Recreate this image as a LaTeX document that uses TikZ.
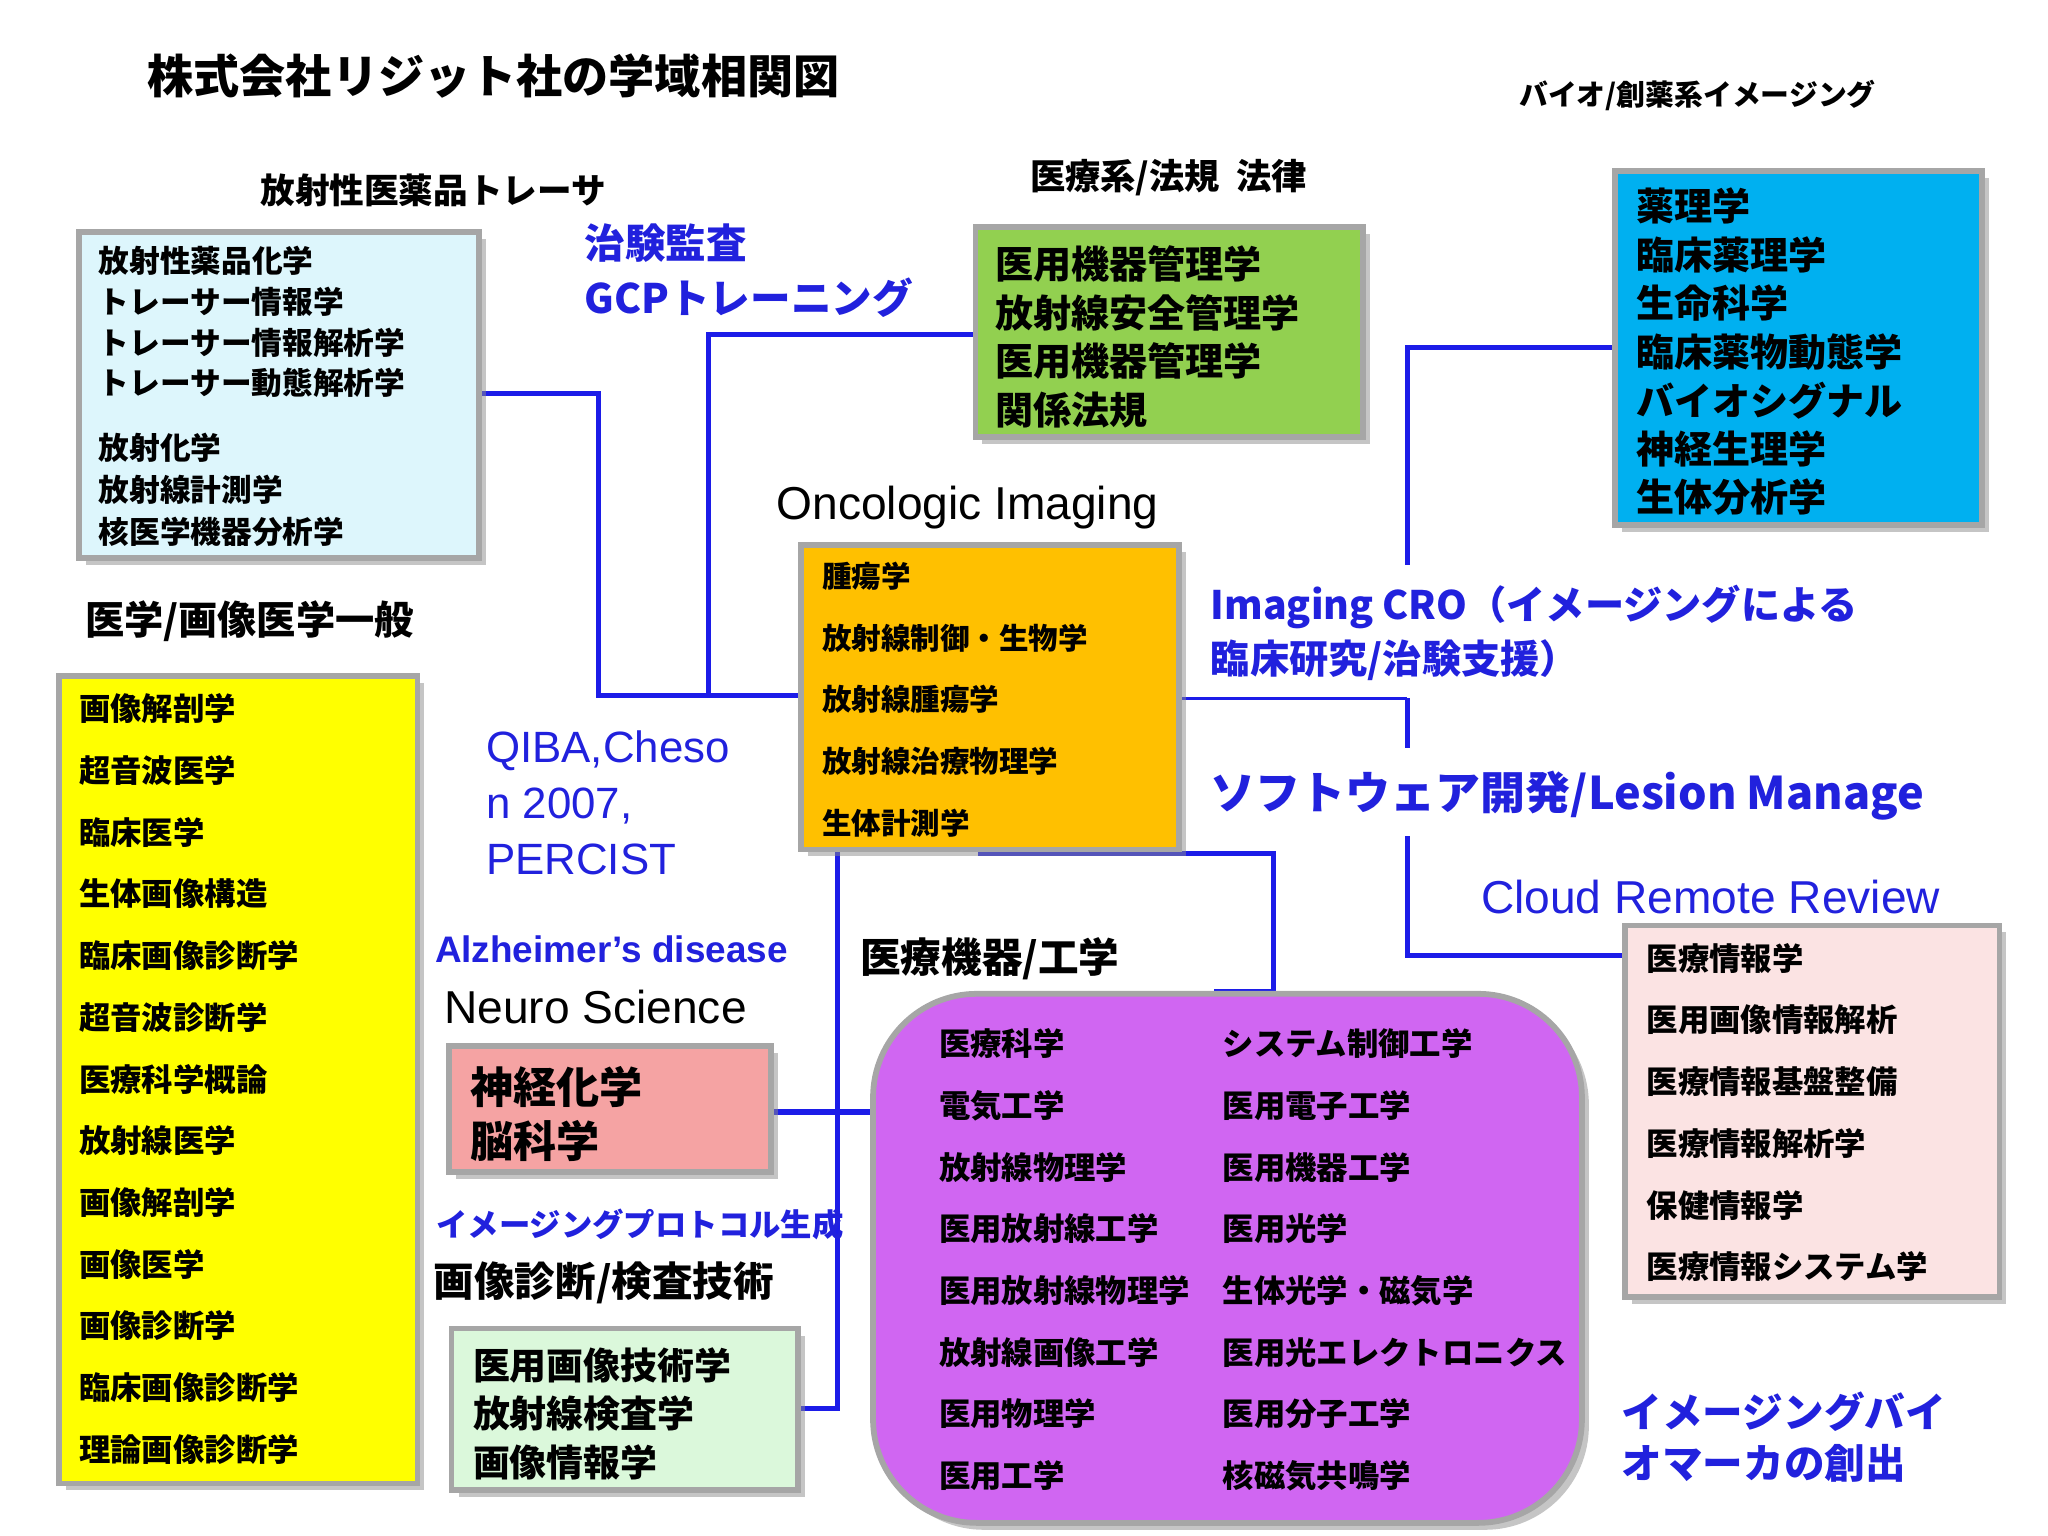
\documentclass[tikz,border=0pt]{standalone}
\usepackage{fontspec}
\setmainfont{Liberation Sans}
\newfontfamily\jp{Noto Sans CJK JP}
\usetikzlibrary{shadows}
\definecolor{tblue}{HTML}{2121DD}
\definecolor{lblue}{HTML}{1C1CE8}
\definecolor{ccy}{HTML}{DDF6FC}
\definecolor{cgr}{HTML}{92D050}
\definecolor{cbl}{HTML}{00B0F0}
\definecolor{cor}{HTML}{FFC000}
\definecolor{cye}{HTML}{FFFF00}
\definecolor{cpk}{HTML}{FBE3E3}
\definecolor{crd}{HTML}{F5A3A3}
\definecolor{clg}{HTML}{DBF8DB}
\definecolor{cpu}{HTML}{D066F2}
\newcommand{\fs}[1]{\fontsize{#1}{#1}\selectfont}
\tikzset{
 bx/.style={draw=black!35,line width=2.5pt,drop shadow={shadow xshift=3pt,shadow yshift=-3pt,fill=black!45}},
 ln/.style={draw=lblue,line width=2.2pt},
 t/.style={anchor=west,inner sep=0pt,font=\jp\bfseries},
 lab/.style={inner sep=0pt,font=\jp\bfseries},
}
\begin{document}
\begin{tikzpicture}[x=0.02cm,y=-0.02cm]
\useasboundingbox (0,0) rectangle (1560,1170);
% connectors
\coordinate (j1) at (456,530);
\draw[ln] (365,300) -- (456,300) -- (j1) -- (610,530);
\draw[ln] (540,530) -- (540,255) -- (743,255);
\draw[lblue,line width=1.2pt] (898,532) -- (1072,532);
\draw[ln] (1230,265) -- (1072,265) -- (1072,430);
\draw[ln] (1072,532) -- (1072,570);
\draw[ln] (1072,637) -- (1072,728) -- (1238,728);
\draw[ln] (638,647) -- (638,1073) -- (608,1073);
\draw[ln] (745,650) -- (970,650) -- (970,755) -- (925,755);
\draw[ln] (587,847) -- (665,847);
% title
\node[lab,anchor=west,font=\jp\bfseries\fs{20}] (title) at (112,58) {株式会社リジット社の学域相関図};
\node[lab,font=\jp\bfseries\fs{12.5}] (bio) at (1293,73) {バイオ/創薬系イメージング};
% cyan box
\node[lab,font=\jp\bfseries\fs{15}] (lcy) at (330,145) {放射性医薬品トレーサ};
\draw[bx,fill=ccy] (60,177) rectangle (365,425);
\foreach \s [count=\i] in {放射性薬品化学,トレーサー情報学,トレーサー情報解析学,トレーサー動態解析学}
  \node[t,font=\jp\bfseries\fs{13.3}] at (75,168+\i*31) {\s};
\foreach \s [count=\i] in {放射化学,放射線計測学,核医学機器分析学}
  \node[t,font=\jp\bfseries\fs{13.3}] at (75,309+\i*32) {\s};
\node[t,font=\jp\bfseries\fs{17.6},text=tblue] (gcp1) at (445,185) {治験監査};
\node[t,font=\jp\bfseries\fs{17.6},text=tblue] (gcp2) at (445,227) {GCPトレーニング};
% green box
\node[lab,font=\jp\bfseries\fs{15.3}] (law) at (890,135) {医療系/法規\ \ 法律};
\draw[bx,fill=cgr] (743,173) rectangle (1038,333);
\foreach \s [count=\i] in {医用機器管理学,放射線安全管理学,医用機器管理学,関係法規}
  \node[t,font=\jp\bfseries\fs{16.5}] at (758,164+\i*37) {\s};
% blue box
\draw[bx,fill=cbl] (1230,130) rectangle (1510,400);
\foreach \s [count=\i] in {薬理学,臨床薬理学,生命科学,臨床薬物動態学,バイオシグナル,神経生理学,生体分析学}
  \node[t,font=\jp\bfseries\fs{16.5}] at (1246,120+\i*37) {\s};
% orange
\node[lab,font=\fs{20}] (onc) at (737,387) {Oncologic Imaging};
\draw[bx,fill=cor] (610,415) rectangle (898,647);
\foreach \s [count=\i] in {腫瘍学,放射線制御・生物学,放射線腫瘍学,放射線治療物理学,生体計測学}
  \node[t,font=\jp\bfseries\fs{12.8}] at (626,392+\i*47) {\s};
% yellow
\node[lab,font=\jp\bfseries\fs{17}] (med) at (190,473) {医学/画像医学一般};
\draw[bx,fill=cye] (45,515) rectangle (318,1130);
\foreach \s [count=\i] in {画像解剖学,超音波医学,臨床医学,生体画像構造,臨床画像診断学,超音波診断学,医療科学概論,放射線医学,画像解剖学,画像医学,画像診断学,臨床画像診断学,理論画像診断学}
  \node[t,font=\jp\bfseries\fs{13.6}] at (60,493+\i*47) {\s};
% right texts
\node[t,font=\jp\bfseries\fs{17},text=tblue] at (922,462) {Imaging CRO（イメージングによる};
\node[t,font=\jp\bfseries\fs{17},text=tblue] at (922,503) {臨床研究/治験支援）};
\node[t,font=\jp\bfseries\fs{19.5},text=tblue] at (922,606) {ソフトウェア開発/Lesion Manage};
\node[lab,font=\fs{20},text=tblue] (crr) at (1303,683) {Cloud Remote Review};
% pink
\draw[bx,fill=cpk] (1238,705) rectangle (1523,988);
\foreach \s [count=\i] in {医療情報学,医用画像情報解析,医療情報基盤整備,医療情報解析学,保健情報学,医療情報システム学}
  \node[t,font=\jp\bfseries\fs{13.6}] at (1254,683+\i*47) {\s};
% middle left texts
\node[t,font=\fs{19},text=tblue] at (370,572) {QIBA,Cheso};
\node[t,font=\fs{19},text=tblue] at (370,614) {n 2007,};
\node[t,font=\fs{19},text=tblue] at (370,655) {PERCIST};
\node[t,font=\bfseries\fs{16},text=tblue] at (331,723) {Alzheimer's disease};
\node[t,font=\fs{20}] at (338,767) {Neuro Science};
\draw[bx,fill=crd] (342,797) rectangle (587,893);
\node[t,font=\jp\bfseries\fs{18.7}] at (358,828) {神経化学};
\node[t,font=\jp\bfseries\fs{18.7}] at (358,869) {脳科学};
\node[t,font=\jp\bfseries\fs{13.6},text=tblue] at (332,933) {イメージングプロトコル生成};
\node[t,font=\jp\bfseries\fs{17.6}] at (330,977) {画像診断/検査技術};
\draw[bx,fill=clg] (344,1012) rectangle (608,1135);
\foreach \s [count=\i] in {医用画像技術学,放射線検査学,画像情報学}
  \node[t,font=\jp\bfseries\fs{16}] at (360,1003+\i*37) {\s};
% purple
\node[t,font=\jp\bfseries\fs{17.6}] at (655,730) {医療機器/工学};
\draw[bx,fill=cpu,rounded corners=45pt] (665,757) rectangle (1205,1160);
\foreach \a/\b [count=\i] in {医療科学/システム制御工学,電気工学/医用電子工学,放射線物理学/医用機器工学,医用放射線工学/医用光学,医用放射線物理学/生体光学・磁気学,放射線画像工学/医用光エレクトロニクス,医用物理学/医用分子工学,医用工学/核磁気共鳴学}{
  \node[t,font=\jp\bfseries\fs{13.6}] at (715,748+\i*47) {\a};
  \node[t,font=\jp\bfseries\fs{13.6}] at (931,748+\i*47) {\b};}
\node[t,font=\jp\bfseries\fs{17.6},text=tblue] at (1235,1075) {イメージングバイ};
\node[t,font=\jp\bfseries\fs{17.6},text=tblue] at (1235,1115) {オマーカの創出};
\end{tikzpicture}
\end{document}
